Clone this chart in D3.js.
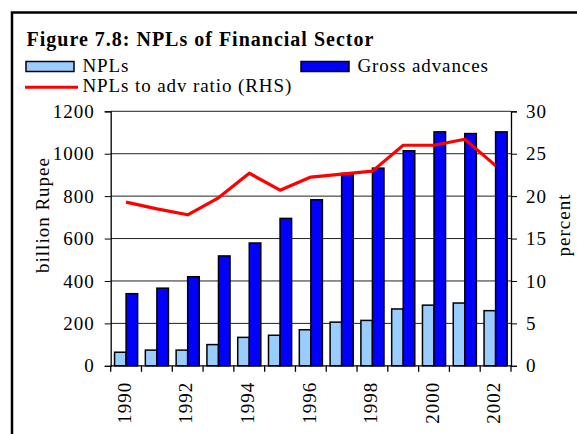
<!DOCTYPE html>
<html>
<head>
<meta charset="utf-8">
<script src="https://cdn.jsdelivr.net/npm/d3@7"></script>
<style>
  body { margin: 0; background: #fff; }
  svg text { font-family: "Liberation Serif", "Times New Roman", serif; fill: #000; }
</style>
</head>
<body>
<div id="chart"></div>
<script>
  // data
  var years = ["1990","1991","1992","1993","1994","1995","1996","1997","1998","1999","2000","2001","2002"]
  var npls = [64, 74, 74, 100, 134, 144, 170, 206, 214, 268, 286, 296, 260]
  var grossAdvances = [340, 366, 420, 518, 579, 695, 783, 907, 932, 1014, 1103, 1095, 1103]
  var nplRatio = [19.3, 18.5, 17.8, 19.8, 22.7, 20.7, 22.25, 22.6, 22.95, 26.0, 26.0, 26.7, 23.6]
  var leftTicks = [0, 200, 400, 600, 800, 1000, 1200]
  var rightTicks = [0, 5, 10, 15, 20, 25, 30]
  var yearLabels = ["1990","1992","1994","1996","1998","2000","2002"]

  var W = 577, H = 434
  var margin = {top: 111.3, left: 110.7, right: 577 - 511, bottom: 434 - 365.8}
  var width = W - margin.left - margin.right,
      height = H - margin.top - margin.bottom

  var svg = d3.select("#chart").append("svg")
      .attr("width", W)
      .attr("height", H)

  // outer frame
  svg.append("rect")
      .attr("x", 12).attr("y", 12.5)
      .attr("width", 700).attr("height", 600)
      .attr("fill", "none")
      .attr("stroke", "#000")
      .attr("stroke-width", 2.5)

  // title
  svg.append("text")
      .attr("x", 26.5).attr("y", 45.5)
      .attr("font-size", "20px")
      .attr("font-weight", "bold")
      .attr("letter-spacing", "1px")
      .text("Figure 7.8: NPLs of Financial Sector")

  // legend
  var legend = svg.append("g")
  legend.append("rect")
      .attr("x", 26).attr("y", 61.5).attr("width", 48).attr("height", 10)
      .attr("fill", "#99ccff").attr("stroke", "#000").attr("stroke-width", 1.5)
  legend.append("text")
      .attr("x", 82.5).attr("y", 71.5)
      .attr("font-size", "19px").attr("letter-spacing", "0.9px")
      .text("NPLs")
  legend.append("rect")
      .attr("x", 301).attr("y", 61.5).attr("width", 48).attr("height", 10)
      .attr("fill", "#0000ff").attr("stroke", "#000").attr("stroke-width", 1.5)
  legend.append("text")
      .attr("x", 357.5).attr("y", 71.5)
      .attr("font-size", "19px").attr("letter-spacing", "0.9px")
      .text("Gross advances")
  legend.append("line")
      .attr("x1", 25).attr("x2", 78).attr("y1", 87.3).attr("y2", 87.3)
      .attr("stroke", "#ff0000").attr("stroke-width", 3)
  legend.append("text")
      .attr("x", 82.5).attr("y", 92)
      .attr("font-size", "19px").attr("letter-spacing", "0.9px")
      .text("NPLs to adv ratio (RHS)")

  var g = svg.append("g")
      .attr("transform", "translate(" + margin.left + "," + margin.top + ")")

  // scales
  var x0 = d3.scaleBand().domain(years).range([0, width]).paddingInner(0.25).paddingOuter(0.125)
  var xStep = d3.scaleBand().domain(years).range([0, width])
  var x1 = d3.scaleBand().domain(["npl", "gross"]).range([0, x0.bandwidth()])
  var yLeft = d3.scaleLinear().domain([0, 1200]).range([height, 0])
  var yRight = d3.scaleLinear().domain([0, 30]).range([height, 0])

  // gridlines
  g.selectAll(".grid")
      .data(leftTicks.slice(1))
    .enter().append("line")
      .attr("class", "grid")
      .attr("x1", 0).attr("x2", width)
      .attr("y1", function(d) { return yLeft(d) })
      .attr("y2", function(d) { return yLeft(d) })
      .attr("stroke", "#222")
      .attr("stroke-width", 1)

  // bars
  var groups = g.selectAll(".year")
      .data(years)
    .enter().append("g")
      .attr("class", "year")
      .attr("transform", function(d) { return "translate(" + x0(d) + ",0)" })

  groups.append("rect")
      .attr("x", x1("npl"))
      .attr("width", x1.bandwidth())
      .attr("y", function(d, i) { return yLeft(npls[i]) })
      .attr("height", function(d, i) { return height - yLeft(npls[i]) })
      .attr("fill", "#99ccff")
      .attr("stroke", "#000")
      .attr("stroke-width", 1.5)

  groups.append("rect")
      .attr("x", x1("gross"))
      .attr("width", x1.bandwidth())
      .attr("y", function(d, i) { return yLeft(grossAdvances[i]) })
      .attr("height", function(d, i) { return height - yLeft(grossAdvances[i]) })
      .attr("fill", "#0000ff")
      .attr("stroke", "#000")
      .attr("stroke-width", 1.5)

  // ratio line
  var line = d3.line()
      .x(function(d, i) { return xStep(years[i]) + xStep.bandwidth() / 2 })
      .y(function(d) { return yRight(d) })

  g.append("path")
      .datum(nplRatio)
      .attr("d", line)
      .attr("fill", "none")
      .attr("stroke", "#ff0000")
      .attr("stroke-width", 3.2)
      .attr("stroke-linejoin", "round")

  // left axis
  var leftAxis = g.append("g")
      .call(d3.axisLeft(yLeft).tickValues(leftTicks).tickFormat(d3.format("d")).tickSize(6).tickPadding(10))
  leftAxis.select(".domain").attr("stroke", "#000").attr("stroke-width", 1.3)
  leftAxis.selectAll("text")
      .attr("font-size", "19px")
      .attr("letter-spacing", "1px")

  // right axis
  var rightAxis = g.append("g")
      .attr("transform", "translate(" + width + ",0)")
      .call(d3.axisRight(yRight).tickValues(rightTicks).tickFormat(d3.format("d")).tickSize(6).tickPadding(9))
  rightAxis.select(".domain").attr("stroke", "#000").attr("stroke-width", 1.3)
  rightAxis.selectAll("text")
      .attr("font-size", "19px")
      .attr("letter-spacing", "1px")

  // x axis: ticks on category boundaries
  g.append("line")
      .attr("x1", 0).attr("x2", width)
      .attr("y1", height).attr("y2", height)
      .attr("stroke", "#000").attr("stroke-width", 1.3)
  g.selectAll(".xtick")
      .data(years.concat(["end"]))
    .enter().append("line")
      .attr("class", "xtick")
      .attr("x1", function(d, i) { return i * xStep.step() })
      .attr("x2", function(d, i) { return i * xStep.step() })
      .attr("y1", height).attr("y2", height + 6)
      .attr("stroke", "#000").attr("stroke-width", 1.3)

  g.selectAll(".xlabel")
      .data(yearLabels)
    .enter().append("text")
      .attr("class", "xlabel")
      .attr("transform", function(d) {
        return "translate(" + (xStep(d) + xStep.bandwidth() / 2 - 2) + "," + (height + 16) + ") rotate(-90)"
      })
      .attr("dy", "0.35em")
      .attr("text-anchor", "end")
      .attr("font-size", "19px")
      .attr("letter-spacing", "1px")
      .text(function(d) { return d })

  // axis titles
  svg.append("text")
      .attr("transform", "translate(42.7,215) rotate(-90)")
      .attr("dy", "0.35em")
      .attr("text-anchor", "middle")
      .attr("font-size", "19px")
      .attr("letter-spacing", "1px")
      .text("billion Rupee")

  svg.append("text")
      .attr("transform", "translate(563,225) rotate(-90)")
      .attr("dy", "0.35em")
      .attr("text-anchor", "middle")
      .attr("font-size", "19px")
      .attr("letter-spacing", "1px")
      .text("percent")
</script>
</body>
</html>
